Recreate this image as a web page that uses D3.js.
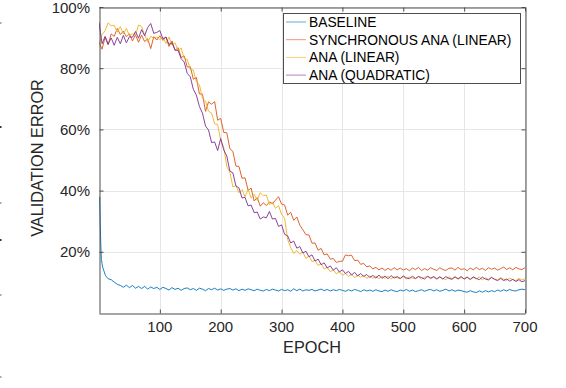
<!DOCTYPE html>
<html>
<head>
<meta charset="utf-8">
<script src="https://cdn.jsdelivr.net/npm/d3@7/dist/d3.min.js"></script>
<style>
  body { margin: 0; background: #fff; }
  svg { display: block; font-family: "Liberation Sans", Arial, Helvetica, sans-serif; }
  .grid line { stroke: #e6e6e6; stroke-width: 1; }
  .tick-label { fill: #262626; font-size: 15px; }
  .axis-title { fill: #262626; font-size: 16.3px; }
  .legend text { fill: #000; font-size: 13.8px; }
</style>
</head>
<body>
<div id="chart"></div>
<script>
// epochs sampled every 5 (0..700) for the three ANA curves
var epochs = d3.range(0, 701, 5);

var xTicks = [100, 200, 300, 400, 500, 600, 700];
var yTicks = [20, 40, 60, 80, 100];

var seriesNames = ["BASELINE", "SYNCHRONOUS ANA (LINEAR)", "ANA (LINEAR)", "ANA (QUADRATIC)"];
var seriesColors = ["#0072BD", "#D95319", "#EDB120", "#7E2F8E"];

// baseline has its own epochs: dense at the start where it drops fast
var baselineEpochs = [1, 2, 3, 4, 5, 6, 8, 10, 12, 15].concat(d3.range(20, 701, 5));
var baselineValues = [
  38.0, 29.5, 22.0, 17.5, 16.2, 15.0, 13.8, 12.6, 11.9, 11.2,
  10.9, 10.1, 9.4, 9.0, 8.4, 9.1,
  8.3, 9.0, 8.1, 8.7, 8.0, 8.7, 7.8, 8.5, 8.0, 8.4,
  7.7, 8.4, 8.0, 7.5, 8.3, 7.7, 8.1, 7.4, 8.0, 8.2,
  7.6, 8.0, 7.4, 8.1, 7.8, 7.3, 8.0, 7.6, 8.1, 7.5,
  7.9, 7.4, 7.8, 8.0, 7.5, 7.9, 7.3, 7.8, 7.4, 7.9,
  7.6, 7.3, 7.8, 7.4, 7.2, 7.7, 7.3, 7.8, 7.5, 7.2,
  7.7, 7.3, 7.6, 7.1, 7.9, 7.3, 7.8, 7.2, 7.6, 7.4,
  7.7, 7.2, 7.5, 7.8, 7.3, 7.7, 7.2, 7.6, 7.3, 7.7,
  7.4, 7.1, 7.6, 7.2, 7.7, 7.4, 7.0, 7.6, 7.2, 7.5,
  7.1, 7.6, 7.2, 7.0, 7.5, 7.1, 7.6, 7.2, 7.0, 7.5,
  7.2, 7.7, 7.1, 7.5, 7.0, 7.3, 7.6, 7.1, 7.5, 7.7,
  7.2, 7.6, 7.1, 7.4, 7.8, 7.2, 7.6, 7.1, 7.5, 7.3,
  7.0, 6.8, 7.3, 6.9, 6.7, 7.2, 6.8, 7.3, 6.9, 7.3,
  7.0, 7.5, 7.1, 7.6, 7.2, 7.7, 7.3, 7.2, 7.6, 7.8, 7.6
];

var syncLinearValues = [
  88.5, 86.2, 90.1, 87.6, 91.2, 90.4, 93.0, 91.0, 92.1, 90.3,
  91.2, 88.9, 90.9, 88.5, 90.8, 88.7, 89.6, 86.4, 90.3, 89.2,
  90.6, 89.1, 90.2, 87.1, 88.9, 85.8, 86.7, 83.5, 84.0, 80.4,
  80.5, 76.4, 77.0, 71.6, 71.5, 65.9, 69.0, 68.2, 69.1, 63.0,
  63.6, 59.0, 58.9, 53.7, 52.8, 48.0, 47.9, 44.0, 44.2, 40.1,
  40.8, 36.6, 37.7, 34.9, 36.0, 35.1, 36.3, 35.7, 36.9, 38.0,
  35.6, 35.3, 32.0, 32.9, 30.3, 31.4, 28.7, 27.2, 25.6, 25.5,
  22.8, 22.9, 20.5, 21.1, 19.0, 19.3, 17.6, 17.8, 16.5, 16.9,
  16.9, 19.0, 18.7, 18.9, 17.1, 17.3, 15.9, 16.2, 15.1, 15.4,
  14.4, 14.9, 14.1, 14.7, 13.9, 14.6, 14.0, 14.8, 14.1, 14.7,
  14.0, 14.5, 13.8, 14.7, 14.2, 14.9, 13.9, 14.5, 14.0, 14.8,
  14.3, 13.9, 14.8, 14.2, 13.9, 14.6, 14.7, 14.0, 14.9, 14.2,
  14.5, 13.8, 14.7, 14.1, 14.9, 14.2, 14.6, 13.9, 14.8, 14.3,
  14.7, 14.0, 14.5, 15.0, 14.2, 14.8, 14.1, 14.9, 14.4, 14.2, 14.8
];

var anaLinearValues = [
  87.6, 91.0, 92.2, 94.8, 93.9, 94.0, 91.8, 93.6, 91.2, 93.0,
  90.6, 91.3, 90.8, 94.1, 93.6, 90.9, 88.6, 90.4, 89.8, 90.2,
  89.4, 90.0, 88.1, 90.2, 87.5, 88.3, 85.7, 86.6, 83.2, 82.9,
  79.6, 79.4, 75.5, 74.6, 70.2, 69.2, 66.0, 65.3, 61.8, 61.6,
  56.4, 54.1, 47.9, 46.0, 41.2, 41.6, 39.3, 40.3, 38.0, 40.4,
  37.6, 38.8, 36.8, 39.3, 38.3, 38.6, 35.4, 36.2, 34.2, 35.1,
  32.2, 31.0, 24.0, 21.4, 19.5, 20.4, 19.2, 19.9, 17.8, 18.6,
  16.8, 17.2, 15.5, 16.1, 14.4, 14.9, 13.5, 14.1, 12.8, 13.5,
  12.3, 12.9, 12.0, 12.7, 11.6, 12.3, 11.7, 12.3, 11.3, 12.1,
  11.3, 12.1, 11.2, 12.0, 11.3, 12.0, 11.1, 11.9, 11.5, 11.2,
  11.9, 11.1, 11.8, 11.4, 11.2, 12.0, 11.0, 11.7, 11.9, 11.2,
  11.7, 11.0, 11.8, 11.3, 10.9, 11.8, 11.2, 11.9, 11.0, 11.6,
  11.2, 11.8, 10.9, 11.6, 11.1, 11.8, 10.8, 11.5, 11.0, 11.7,
  11.1, 10.8, 11.5, 11.0, 10.7, 11.4, 10.9, 10.6, 11.3, 10.8, 11.2
];

var anaQuadValues = [
  95.0, 88.0, 90.4, 87.9, 89.9, 87.5, 90.1, 88.0, 90.7, 88.3,
  90.3, 90.1, 92.0, 89.8, 92.6, 90.6, 93.3, 94.6, 91.4, 91.7,
  92.3, 89.6, 90.2, 87.8, 88.3, 85.9, 85.8, 83.1, 82.0, 78.3,
  77.2, 73.1, 71.2, 67.5, 65.3, 61.1, 59.8, 55.7, 55.9, 53.1,
  57.0, 53.3, 51.3, 46.4, 45.8, 41.5, 40.9, 37.6, 37.8, 35.0,
  35.3, 32.8, 33.0, 30.7, 31.4, 31.1, 33.2, 30.7, 30.9, 28.3,
  28.8, 25.7, 25.2, 22.9, 23.5, 21.2, 21.7, 19.6, 20.2, 18.4,
  19.0, 17.0, 17.6, 15.8, 16.4, 14.7, 15.4, 14.0, 14.8, 13.4,
  14.1, 12.9, 13.6, 12.4, 13.3, 12.1, 12.9, 11.9, 12.6, 11.6,
  12.3, 11.4, 12.4, 11.3, 12.1, 11.2, 12.2, 11.4, 11.9, 11.3,
  12.1, 11.5, 11.2, 12.0, 11.3, 11.9, 11.6, 11.1, 12.0, 11.4,
  11.9, 11.2, 11.8, 11.1, 11.9, 11.3, 11.0, 11.8, 11.2, 11.9,
  11.1, 11.7, 11.0, 11.8, 11.3, 10.9, 11.7, 11.1, 10.8, 11.6,
  11.0, 10.6, 11.3, 10.6, 11.1, 10.4, 11.0, 10.3, 10.9, 10.2, 10.6
];

var width = 566, height = 388;
var margin = {left: 99, right: 41, top: 7, bottom: 75};

var svg = d3.select("#chart").append("svg")
    .attr("width", width)
    .attr("height", height);

var x = d3.scaleLinear().domain([0, 700]).range([margin.left, width - margin.right]);
var y = d3.scaleLinear().domain([0, 100]).range([height - margin.bottom, margin.top]);

// grid
var grid = svg.append("g").attr("class", "grid");
grid.selectAll(".gx").data(xTicks).enter().append("line")
    .attr("x1", function(d) { return Math.round(x(d)) + 0.5; })
    .attr("x2", function(d) { return Math.round(x(d)) + 0.5; })
    .attr("y1", y(0)).attr("y2", y(100));
grid.selectAll(".gy").data(yTicks).enter().append("line")
    .attr("y1", function(d) { return Math.round(y(d)) + 0.5; })
    .attr("y2", function(d) { return Math.round(y(d)) + 0.5; })
    .attr("x1", x(0)).attr("x2", x(700));

// lines
svg.append("clipPath").attr("id", "plotClip")
    .append("rect")
    .attr("x", x(0)).attr("y", y(100))
    .attr("width", x(700) - x(0)).attr("height", y(0) - y(100));

var line = d3.line()
    .x(function(d) { return x(d[0]); })
    .y(function(d) { return y(d[1]); });

var allSeries = [
    d3.zip(baselineEpochs, baselineValues),
    d3.zip(epochs, syncLinearValues),
    d3.zip(epochs, anaLinearValues),
    d3.zip(epochs, anaQuadValues)
];

svg.append("g").attr("clip-path", "url(#plotClip)")
    .selectAll("path")
    .data(allSeries)
    .enter()
    .append("path")
    .attr("d", line)
    .attr("fill", "none")
    .attr("stroke", function(d, i) { return seriesColors[i]; })
    .attr("stroke-opacity", 0.9)
    .attr("stroke-width", 1)
    .attr("stroke-linejoin", "round");

// axes (box with inward ticks, like matlab)
var axisColor = "#4d4d4d";
var axBottom = svg.append("g")
    .attr("transform", "translate(0," + (Math.round(y(0)) + 0.5) + ")")
    .call(d3.axisBottom(x).tickValues(xTicks).tickSize(-4).tickSizeOuter(0).tickFormat(""));
var axTop = svg.append("g")
    .attr("transform", "translate(0," + (Math.round(y(100)) + 0.5) + ")")
    .call(d3.axisTop(x).tickValues(xTicks).tickSize(-4).tickSizeOuter(0).tickFormat(""));
var axLeft = svg.append("g")
    .attr("transform", "translate(" + (Math.round(x(0)) + 0.5) + ",0)")
    .call(d3.axisLeft(y).tickValues(yTicks).tickSize(-4).tickSizeOuter(0).tickFormat(""));
var axRight = svg.append("g")
    .attr("transform", "translate(" + (Math.round(x(700)) + 0.5) + ",0)")
    .call(d3.axisRight(y).tickValues(yTicks).tickSize(-4).tickSizeOuter(0).tickFormat(""));
[axBottom, axTop, axLeft, axRight].forEach(function(g) {
    g.selectAll("path, line").attr("stroke", axisColor).attr("stroke-width", 1);
});

// tick labels
svg.selectAll(".xlab").data(xTicks).enter().append("text")
    .attr("class", "tick-label")
    .attr("x", function(d) { return x(d); })
    .attr("y", 332)
    .attr("text-anchor", "middle")
    .text(function(d) { return d; });

svg.selectAll(".ylab").data(yTicks).enter().append("text")
    .attr("class", "tick-label")
    .attr("x", 90)
    .attr("y", function(d) { return y(d) + 5.5; })
    .attr("text-anchor", "end")
    .text(function(d) { return d + "%"; });

// axis titles
svg.append("text")
    .attr("class", "axis-title")
    .attr("transform", "translate(43," + 158 + ") rotate(-90)")
    .attr("text-anchor", "middle")
    .text("VALIDATION ERROR");

svg.append("text")
    .attr("class", "axis-title")
    .attr("x", x(350))
    .attr("y", 353)
    .attr("text-anchor", "middle")
    .text("EPOCH");

// legend
var legend = svg.append("g").attr("class", "legend");
legend.append("rect")
    .attr("x", 283.5).attr("y", 13.5)
    .attr("width", 237).attr("height", 70)
    .attr("fill", "#fff")
    .attr("stroke", axisColor)
    .attr("stroke-width", 1);

var rows = legend.selectAll(".row").data(seriesNames).enter().append("g")
    .attr("transform", function(d, i) { return "translate(0," + (22 + i * 17.7) + ")"; });
rows.append("line")
    .attr("x1", 286).attr("x2", 306)
    .attr("y1", 0).attr("y2", 0)
    .attr("stroke", function(d, i) { return seriesColors[i]; })
    .attr("stroke-opacity", 0.6)
    .attr("stroke-width", 1);
rows.append("text")
    .attr("x", 309)
    .attr("y", 5)
    .text(function(d) { return d; });

// small marks at the left edge of the page (from the source image crop)
var edgeMarks = [23, 127, 203, 240, 295, 377];
svg.selectAll(".edge").data(edgeMarks).enter().append("rect")
    .attr("x", 0).attr("y", function(d) { return d - 1; })
    .attr("width", 1.5).attr("height", 2)
    .attr("fill", function(d) { return (d === 127 || d === 240) ? "#333" : "#aaa"; });
</script>
</body>
</html>
